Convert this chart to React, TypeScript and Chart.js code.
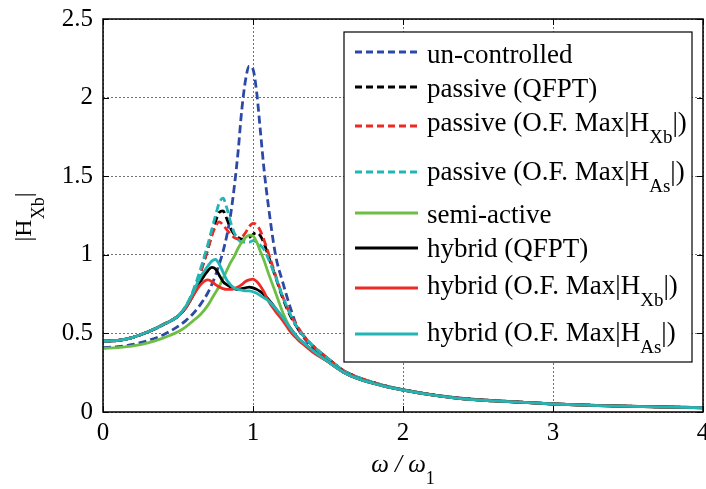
import React, { useEffect, useRef } from "react";
import { Chart, registerables } from "chart.js";

Chart.register(...registerables);

const FONT = "'Liberation Serif', 'Times New Roman', serif";

// frequency ratio omega/omega_1
const omegaRatio = [0, 0.1, 0.2, 0.3, 0.4, 0.5, 0.55, 0.6, 0.65, 0.7, 0.725, 0.75, 0.775, 0.8, 0.825, 0.85, 0.875, 0.9, 0.925, 0.95, 0.975, 1.0, 1.025, 1.05, 1.075, 1.1, 1.15, 1.2, 1.25, 1.3, 1.35, 1.4, 1.5, 1.6, 1.7, 1.8, 1.9, 2.0, 2.2, 2.4, 2.6, 2.8, 3.0, 3.3, 3.6, 4.0];

const unControlled = [0.41, 0.415, 0.43, 0.455, 0.49, 0.545, 0.58, 0.625, 0.685, 0.76, 0.81, 0.87, 0.94, 1.02, 1.12, 1.25, 1.43, 1.65, 1.92, 2.11, 2.2, 2.18, 2.03, 1.78, 1.53, 1.33, 1.0, 0.82, 0.66, 0.53, 0.46, 0.41, 0.34, 0.265, 0.22, 0.188, 0.162, 0.142, 0.109, 0.086, 0.073, 0.062, 0.052, 0.042, 0.035, 0.028];
const passiveQFPT = [0.45, 0.455, 0.475, 0.51, 0.555, 0.61, 0.665, 0.76, 0.89, 1.04, 1.13, 1.21, 1.27, 1.28, 1.23, 1.17, 1.13, 1.11, 1.1, 1.1, 1.11, 1.13, 1.14, 1.12, 1.07, 1.0, 0.86, 0.72, 0.61, 0.53, 0.47, 0.42, 0.34, 0.265, 0.22, 0.188, 0.162, 0.142, 0.109, 0.086, 0.073, 0.062, 0.052, 0.042, 0.035, 0.028];
const passiveOFXb = [0.45, 0.455, 0.475, 0.51, 0.555, 0.61, 0.665, 0.76, 0.89, 1.04, 1.12, 1.18, 1.21, 1.19, 1.16, 1.13, 1.11, 1.1, 1.11, 1.14, 1.18, 1.2, 1.19, 1.15, 1.09, 1.02, 0.87, 0.73, 0.62, 0.54, 0.47, 0.42, 0.34, 0.265, 0.22, 0.188, 0.162, 0.142, 0.109, 0.086, 0.073, 0.062, 0.052, 0.042, 0.035, 0.028];
const passiveOFAs = [0.45, 0.455, 0.475, 0.51, 0.555, 0.61, 0.67, 0.77, 0.91, 1.07, 1.16, 1.25, 1.33, 1.36, 1.3, 1.21, 1.14, 1.1, 1.08, 1.08, 1.08, 1.09, 1.08, 1.06, 1.03, 0.98, 0.86, 0.73, 0.62, 0.53, 0.47, 0.42, 0.34, 0.265, 0.22, 0.188, 0.162, 0.142, 0.109, 0.086, 0.073, 0.062, 0.052, 0.042, 0.035, 0.028];
const semiActive = [0.405, 0.41, 0.42, 0.44, 0.47, 0.51, 0.54, 0.58, 0.62, 0.68, 0.72, 0.76, 0.8, 0.85, 0.9, 0.95, 0.99, 1.04, 1.08, 1.11, 1.125, 1.12, 1.08, 1.02, 0.96, 0.89, 0.76, 0.63, 0.53, 0.46, 0.42, 0.385, 0.32, 0.255, 0.212, 0.183, 0.158, 0.139, 0.107, 0.084, 0.071, 0.061, 0.051, 0.041, 0.034, 0.027];
const hybridQFPT = [0.45, 0.455, 0.475, 0.51, 0.555, 0.61, 0.66, 0.74, 0.83, 0.9, 0.92, 0.91, 0.87, 0.83, 0.81, 0.795, 0.785, 0.78, 0.785, 0.79, 0.795, 0.79, 0.78, 0.765, 0.745, 0.72, 0.66, 0.59, 0.53, 0.47, 0.43, 0.39, 0.32, 0.255, 0.212, 0.183, 0.158, 0.139, 0.107, 0.084, 0.071, 0.061, 0.051, 0.041, 0.034, 0.027];
const hybridOFXb = [0.45, 0.455, 0.475, 0.51, 0.555, 0.61, 0.66, 0.74, 0.81, 0.84, 0.83, 0.81, 0.795, 0.785, 0.78, 0.78, 0.785, 0.795, 0.81, 0.83, 0.84, 0.845, 0.83, 0.8, 0.76, 0.71, 0.64, 0.58, 0.51, 0.46, 0.42, 0.38, 0.32, 0.255, 0.212, 0.183, 0.158, 0.139, 0.107, 0.084, 0.071, 0.061, 0.051, 0.041, 0.034, 0.027];
const hybridOFAs = [0.45, 0.455, 0.475, 0.51, 0.555, 0.61, 0.67, 0.76, 0.86, 0.93, 0.96, 0.97, 0.94, 0.89, 0.84, 0.81, 0.79, 0.78, 0.775, 0.77, 0.77, 0.765, 0.755, 0.74, 0.725, 0.71, 0.66, 0.6, 0.53, 0.47, 0.43, 0.39, 0.32, 0.255, 0.212, 0.183, 0.158, 0.139, 0.107, 0.084, 0.071, 0.061, 0.051, 0.041, 0.034, 0.027];

const xTicks = [0, 1, 2, 3, 4];
const yTicks = [0, 0.5, 1, 1.5, 2, 2.5];
const xTickLabels = ["0", "1", "2", "3", "4"];
const yTickLabels = ["0", "0.5", "1", "1.5", "2", "2.5"];

type Part = { t: string; sub?: boolean; italic?: boolean };

const legendLabels: Part[][] = [
  [{ t: "un-controlled" }],
  [{ t: "passive (QFPT)" }],
  [{ t: "passive (O.F. Max|H" }, { t: "Xb", sub: true }, { t: "|)" }],
  [{ t: "passive (O.F. Max|H" }, { t: "As", sub: true }, { t: "|)" }],
  [{ t: "semi-active" }],
  [{ t: "hybrid (QFPT)" }],
  [{ t: "hybrid (O.F. Max|H" }, { t: "Xb", sub: true }, { t: "|)" }],
  [{ t: "hybrid (O.F. Max|H" }, { t: "As", sub: true }, { t: "|)" }],
];

const BLUE = "#2C4AA5";
const BLACK = "#000000";
const RED = "#EE2A24";
const CYAN = "#22B5B5";
const GREEN = "#6CBE45";

const seriesDefs = [
  { values: unControlled, color: BLUE, dashed: true },
  { values: passiveQFPT, color: BLACK, dashed: true },
  { values: passiveOFXb, color: RED, dashed: true },
  { values: passiveOFAs, color: CYAN, dashed: true },
  { values: semiActive, color: GREEN, dashed: false },
  { values: hybridQFPT, color: BLACK, dashed: false },
  { values: hybridOFXb, color: RED, dashed: false },
  { values: hybridOFAs, color: CYAN, dashed: false },
];

const DASH = [8, 4];

function setFont(ctx: CanvasRenderingContext2D, p: Part, size: number, subSize: number) {
  ctx.font = `${p.italic ? "italic " : ""}${p.sub ? subSize : size}px ${FONT}`;
}

function drawParts(ctx: CanvasRenderingContext2D, parts: Part[], x: number, y: number, size: number, subSize: number, subDy: number) {
  let cx = x;
  for (const p of parts) {
    setFont(ctx, p, size, subSize);
    ctx.fillText(p.t, cx, p.sub ? y + subDy : y);
    cx += ctx.measureText(p.t).width;
  }
  return cx - x;
}

function partsWidth(ctx: CanvasRenderingContext2D, parts: Part[], size: number, subSize: number) {
  let w = 0;
  for (const p of parts) {
    setFont(ctx, p, size, subSize);
    w += ctx.measureText(p.t).width;
  }
  return w;
}

const framePlugin = {
  id: "frameAndLegend",
  afterDraw(chart: any) {
    const { ctx, chartArea: a, scales } = chart;
    ctx.save();
    // inward tick marks
    ctx.strokeStyle = "#000";
    ctx.lineWidth = 1;
    ctx.setLineDash([]);
    ctx.beginPath();
    for (const v of xTicks) {
      const px = Math.round(scales.x.getPixelForValue(v)) + 0.5;
      ctx.moveTo(px, a.bottom);
      ctx.lineTo(px, a.bottom - 6);
      ctx.moveTo(px, a.top);
      ctx.lineTo(px, a.top + 6);
    }
    for (const v of yTicks) {
      const py = Math.round(scales.y.getPixelForValue(v)) + 0.5;
      ctx.moveTo(a.left, py);
      ctx.lineTo(a.left + 6, py);
      ctx.moveTo(a.right, py);
      ctx.lineTo(a.right - 6, py);
    }
    ctx.stroke();
    // axes box
    ctx.lineWidth = 1.5;
    ctx.strokeRect(a.left, a.top, a.right - a.left, a.bottom - a.top);

    // legend
    const lx0 = 344, ly0 = 32, lx1 = 692, ly1 = 362;
    ctx.fillStyle = "#fff";
    ctx.fillRect(lx0, ly0, lx1 - lx0, ly1 - ly0);
    ctx.lineWidth = 1.2;
    ctx.strokeStyle = "#000";
    ctx.strokeRect(lx0, ly0, lx1 - lx0, ly1 - ly0);
    const lineYs = [52, 87, 126, 172, 213, 248, 288, 334];
    const baseYs = [63, 97, 131, 180, 223, 257, 294, 341];
    ctx.textBaseline = "alphabetic";
    ctx.textAlign = "left";
    seriesDefs.forEach((s, i) => {
      ctx.beginPath();
      ctx.strokeStyle = s.color;
      ctx.lineWidth = 3;
      ctx.setLineDash(s.dashed ? [7, 4] : []);
      ctx.moveTo(355, lineYs[i]);
      ctx.lineTo(418, lineYs[i]);
      ctx.stroke();
      ctx.setLineDash([]);
      ctx.fillStyle = "#000";
      drawParts(ctx, legendLabels[i], 427, baseYs[i], 27, 19, 12);
    });

    // x axis title
    ctx.fillStyle = "#000";
    const xTitle: Part[] = [{ t: "\u03c9 / \u03c9", italic: true }, { t: "1", sub: true }];
    const xw = partsWidth(ctx, xTitle, 25, 18);
    drawParts(ctx, xTitle, (a.left + a.right) / 2 - xw / 2, 472, 25, 18, 12);

    // y axis title (rotated)
    const yTitle: Part[] = [{ t: "|H" }, { t: "Xb", sub: true }, { t: "|" }];
    const yw = partsWidth(ctx, yTitle, 24, 18);
    ctx.translate(31, 217);
    ctx.rotate(-Math.PI / 2);
    drawParts(ctx, yTitle, -yw / 2, 0, 24, 18, 13);
    ctx.restore();
  },
};

export default function App() {
  const ref = useRef<HTMLCanvasElement>(null);
  useEffect(() => {
    const datasets = seriesDefs.map((s, i) => ({
      label: legendLabels[i].map((p) => p.t).join(""),
      data: omegaRatio.map((x, j) => ({ x, y: s.values[j] })),
      borderColor: s.color,
      backgroundColor: s.color,
      borderWidth: 2.8,
      borderDash: s.dashed ? DASH : [],
      pointRadius: 0,
      cubicInterpolationMode: "monotone" as const,
      fill: false,
      order: seriesDefs.length - i,
    }));
    const chart = new Chart(ref.current!, {
      type: "line",
      data: { datasets },
      options: {
        animation: false,
        responsive: false,
        devicePixelRatio: 1,
        layout: { padding: { left: 0, top: 19, right: 3, bottom: 0 } },
        plugins: { legend: { display: false }, tooltip: { enabled: false } },
        scales: {
          x: {
            type: "linear",
            min: 0,
            max: 4,
            afterBuildTicks: (s: any) => {
              s.ticks = xTicks.map((v) => ({ value: v }));
            },
            ticks: {
              color: "#000",
              font: { family: FONT, size: 25 },
              padding: 6,
              maxRotation: 0,
              autoSkip: false,
              callback: (_v: any, i: number) => xTickLabels[i],
            },
            grid: { color: "rgba(90,90,90,0.85)", lineWidth: 1, drawTicks: false },
            border: { display: false, dash: [2, 2] },
            afterFit: (s: any) => {
              s.height = 77;
              s.paddingLeft = 0;
              s.paddingRight = 0;
            },
          },
          y: {
            type: "linear",
            min: 0,
            max: 2.5,
            afterBuildTicks: (s: any) => {
              s.ticks = yTicks.map((v) => ({ value: v }));
            },
            ticks: {
              color: "#000",
              font: { family: FONT, size: 25 },
              padding: 10,
              callback: (_v: any, i: number) => yTickLabels[i],
            },
            grid: { color: "rgba(90,90,90,0.85)", lineWidth: 1, drawTicks: false },
            border: { display: false, dash: [2, 2] },
            afterFit: (s: any) => {
              s.width = 103;
              s.paddingTop = 0;
              s.paddingBottom = 0;
            },
          },
        },
      },
      plugins: [framePlugin],
    });
    return () => chart.destroy();
  }, []);
  return (
    <div style={{ position: "fixed", left: 0, top: 0, width: 706, height: 489, background: "#fff" }}>
      <canvas ref={ref} width={706} height={489} style={{ width: 706, height: 489, display: "block" }} />
    </div>
  );
}
